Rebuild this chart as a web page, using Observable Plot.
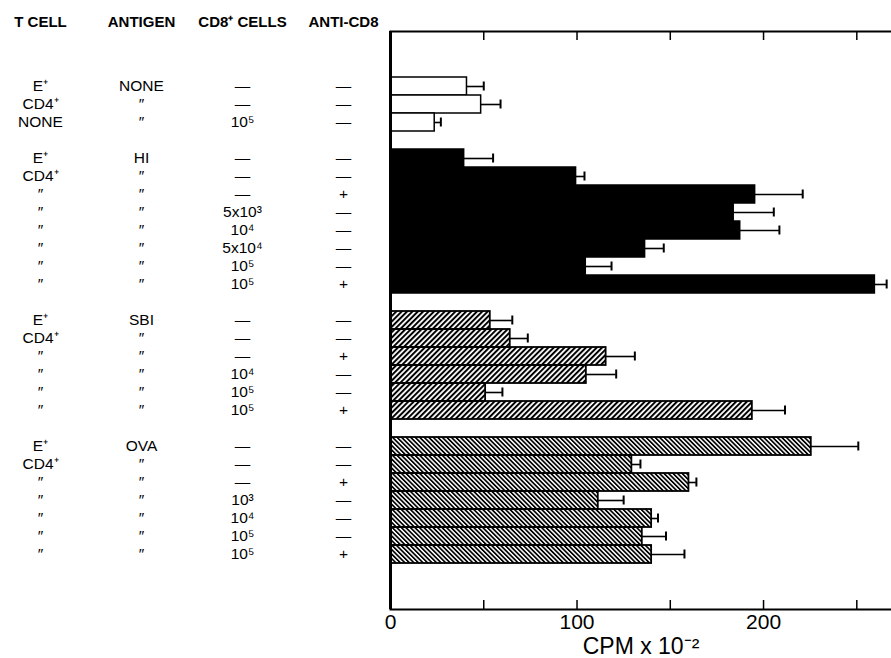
<!DOCTYPE html>
<html><head><meta charset="utf-8">
<script src="https://cdn.jsdelivr.net/npm/d3@7"></script>
<script src="https://cdn.jsdelivr.net/npm/@observablehq/plot@0.6"></script>
<style>
html,body{margin:0;padding:0;background:#fff;color:#000;}
#wrap{display:flex;width:891px;height:658px;overflow:hidden;}
#wrap svg{font-family:"Liberation Sans",Arial,Helvetica,sans-serif;color:#000;background:#fff;display:block;}
</style></head><body><div id="wrap"></div>
<script>
// ---- data ----
const groups = ["NONE", "HI", "SBI", "OVA"];
const groupSizes = [3, 8, 6, 7];
const tCell = ["E⁺","CD4⁺","NONE", "E⁺","CD4⁺","″","″","″","″","″","″", "E⁺","CD4⁺","″","″","″","″", "E⁺","CD4⁺","″","″","″","″","″"];
const antigen = ["NONE","″","″", "HI","″","″","″","″","″","″","″", "SBI","″","″","″","″","″", "OVA","″","″","″","″","″","″"];
const cd8Cells = ["—","—","10⁵", "—","—","—","5x10³","10⁴","5x10⁴","10⁵","10⁵", "—","—","—","10⁴","10⁵","10⁵", "—","—","—","10³","10⁴","10⁵","10⁵"];
const antiCD8 = ["—","—","—", "—","—","+","—","—","—","—","+", "—","—","+","—","—","+", "—","—","+","—","—","—","+"];
const cpm = [41, 48.6, 23.7, 39.5, 99.5, 195.5, 184, 187.5, 136.5, 104.7, 259.7, 53.5, 64.2, 115.6, 105, 51, 194, 225.6, 129.4, 160, 111.4, 140, 135, 140];
const cpmErrTop = [50, 59, 27, 55, 104, 221, 205.5, 208.5, 146.5, 118.5, 266, 65.3, 73.6, 131, 121, 60, 211.5, 250.8, 134, 164, 125, 143.4, 147.7, 157.6];
const columns = ["T CELL", "ANTIGEN", "CD8⁺ CELLS", "ANTI-CD8"];
const xTicks = [50, 100, 150, 200, 250];
const xTickLabels = [0, 100, 200];
const xLabel = "CPM x 10⁻²";

// ---- build rows ----
const groupOf = [];
groupSizes.forEach((n, g) => { for (let k = 0; k < n; k++) groupOf.push(groups[g]); });
const rows = cpm.map((v, i) => ({
  id: "r" + i, group: groupOf[i], tCell: tCell[i], antigen: antigen[i],
  cd8: cd8Cells[i], anti: antiCD8[i], cpm: v, errTop: cpmErrTop[i]
}));
const yDomain = ["pad0", "pad1"];
let idx = 0;
groupSizes.forEach((n, g) => {
  if (g > 0) yDomain.push("gap" + g);
  for (let k = 0; k < n; k++) yDomain.push("r" + (idx++));
});
yDomain.push("pad2", "pad3");

const H = 658, MT = 31, MB = 49;
const yScale = {type: "band", domain: yDomain, padding: 0, axis: null};

// ---- table (left) ----
const cells = rows.flatMap(r => [r.tCell, r.antigen, r.cd8, r.anti].map((t, j) => ({col: columns[j], id: r.id, text: t})));
const table = Plot.plot({
  width: 384, height: H, marginLeft: 39, marginRight: 41, marginTop: MT, marginBottom: MB,
  x: {type: "point", domain: columns, padding: 0, axis: null},
  y: yScale,
  marks: [
    Plot.axisX({anchor: "top", tickSize: 0, tickPadding: 5, fontSize: 15, fontWeight: "bold", label: null}),
    Plot.text(cells, {x: "col", y: "id", text: "text", fontSize: 15.5})
  ]
});

// ---- bars (right) ----
const chart = Plot.plot({
  width: 507, height: H, marginLeft: 6, marginRight: 0, marginTop: MT, marginBottom: MB,
  x: {domain: [0, 268.6], axis: null},
  y: yScale,
  marks: [
    Plot.barX(rows, {filter: d => d.group === "NONE", x: "cpm", y: "id", fill: "white", stroke: "black", strokeWidth: 1.5}),
    Plot.barX(rows, {filter: d => d.group === "HI", x: "cpm", y: "id", fill: "black", stroke: "black", strokeWidth: 1.5}),
    Plot.barX(rows, {filter: d => d.group === "SBI", x: "cpm", y: "id", fill: "url(#hatchSBI)", stroke: "black", strokeWidth: 1.8}),
    Plot.barX(rows, {filter: d => d.group === "OVA", x: "cpm", y: "id", fill: "url(#hatchOVA)", stroke: "black", strokeWidth: 1.8}),
    Plot.ruleY(rows, {y: "id", x1: "cpm", x2: "errTop", stroke: "black", strokeWidth: 1.6}),
    Plot.tickX(rows, {x: "errTop", y: "id", stroke: "black", strokeWidth: 2, insetTop: 4.5, insetBottom: 4.5}),
    Plot.ruleX([0], {stroke: "black", strokeWidth: 3}),
    Plot.frame({anchor: "top", stroke: "black", strokeWidth: 2}),
    Plot.frame({anchor: "bottom", stroke: "black", strokeWidth: 2}),
    Plot.axisX({anchor: "top", ticks: xTicks, tickSize: -8, tickFormat: () => "", strokeWidth: 1.5, label: null}),
    Plot.axisX({anchor: "bottom", ticks: xTicks, tickSize: -9, tickFormat: () => "", strokeWidth: 1.5, label: null}),
    Plot.axisX({anchor: "bottom", ticks: xTickLabels, tickSize: 0, tickPadding: 5, fontSize: 21, label: null}),
    Plot.text([xLabel], {frameAnchor: "bottom", dy: 44, lineAnchor: "bottom", fontSize: 23})
  ]
});

// hatch patterns
const defs = d3.select(chart).insert("defs", ":first-child");
defs.append("pattern").attr("id", "hatchSBI").attr("patternUnits", "userSpaceOnUse")
  .attr("width", 3.8).attr("height", 3.8).attr("patternTransform", "rotate(45)")
  .append("rect").attr("width", 2).attr("height", 3.8).attr("fill", "black");
defs.append("pattern").attr("id", "hatchOVA").attr("patternUnits", "userSpaceOnUse")
  .attr("width", 3.2).attr("height", 3.2).attr("patternTransform", "rotate(-45)")
  .append("rect").attr("width", 1.7).attr("height", 3.2).attr("fill", "black");

document.getElementById("wrap").append(table, chart);
</script></body></html>
